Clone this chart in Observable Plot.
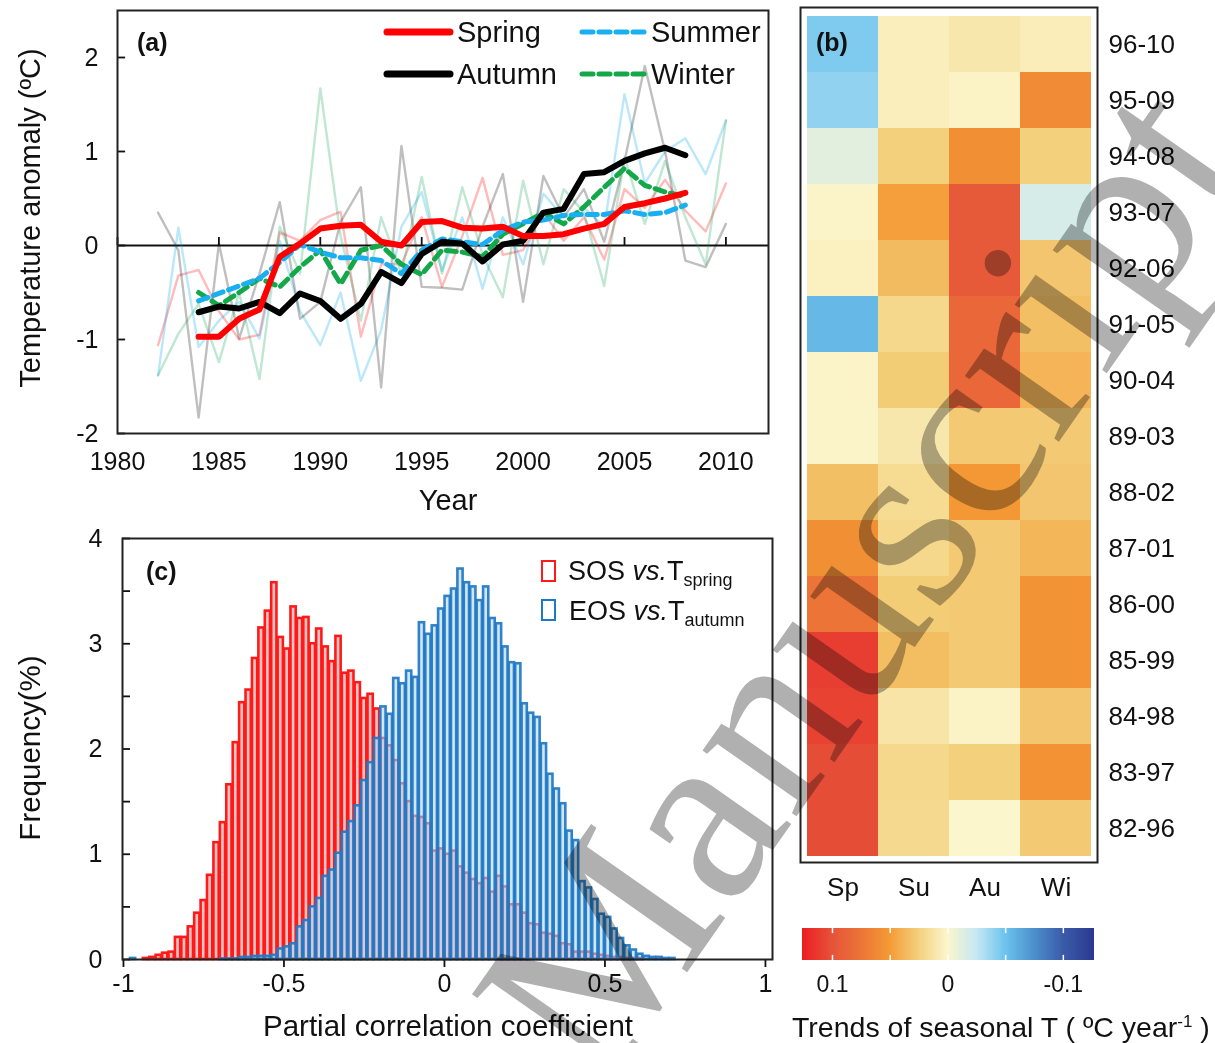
<!DOCTYPE html>
<html><head><meta charset="utf-8">
<script src="https://cdn.jsdelivr.net/npm/d3@7"></script>
<script src="https://cdn.jsdelivr.net/npm/@observablehq/plot@0.6"></script>
<style>
body{margin:0;background:#fff;font-family:"Liberation Sans",Arial,sans-serif;}
#root{position:relative;width:1215px;height:1043px;overflow:hidden;background:#fff}
.abs{position:absolute}
.t{position:absolute;white-space:nowrap;color:#111;line-height:1}
</style></head><body><div id="root"></div>
<script>
// ---------- Panel (a) data ----------
const years = [1982,1983,1984,1985,1986,1987,1988,1989,1990,1991,1992,1993,1994,1995,1996,1997,1998,1999,2000,2001,2002,2003,2004,2005,2006,2007,2008,2009,2010];
const maYears = [1984,1985,1986,1987,1988,1989,1990,1991,1992,1993,1994,1995,1996,1997,1998,1999,2000,2001,2002,2003,2004,2005,2006,2007,2008];
const springAnnual = [-1.06,-0.32,-0.26,-0.7,-1.0,-0.95,0.14,0.05,0.27,0.36,-0.97,-0.2,-0.2,0.3,-0.44,0.1,0.72,-0.1,-0.05,0.35,0.05,0.3,-0.15,0.6,0.4,0.7,0.37,0.15,0.66];
const summerAnnual = [-1.38,0.19,-1.08,-0.8,-0.6,-0.99,0.05,-0.7,-1.06,-0.5,-1.44,-0.9,0.2,0.57,-0.27,0.3,-0.46,0.3,-0.2,0.55,0.3,0.4,0.2,1.61,0.66,1.0,1.14,0.76,1.33];
const autumnAnnual = [0.35,-0.05,-1.83,0.02,-0.99,-0.3,0.46,-0.78,-0.6,0.25,0.62,-1.51,1.06,-0.44,-0.45,-0.47,0.2,0.76,-0.6,0.74,0.3,0.6,0.04,0.9,1.91,1.0,-0.16,-0.23,0.23];
const winterAnnual = [-1.38,-0.94,-0.62,-1.24,-0.5,-1.42,0.2,-0.3,1.67,0.1,-0.8,0.3,-0.3,0.73,-0.3,0.62,-0.1,-0.55,0.69,-0.2,0.6,0.35,-0.43,0.94,0.23,0.9,0.3,-0.2,1.33];
const springMA = [-0.97,-0.97,-0.78,-0.68,-0.12,0.02,0.18,0.21,0.22,0.04,0.0,0.25,0.26,0.19,0.18,0.2,0.1,0.1,0.12,0.18,0.23,0.41,0.45,0.5,0.56];
const summerMA = [-0.59,-0.51,-0.43,-0.35,-0.18,0.01,-0.07,-0.13,-0.13,-0.16,-0.3,-0.05,0.07,0.04,0.01,0.16,0.25,0.27,0.32,0.33,0.33,0.37,0.33,0.35,0.43];
const autumnMA = [-0.71,-0.65,-0.67,-0.6,-0.72,-0.51,-0.59,-0.78,-0.62,-0.28,-0.4,-0.09,0.04,0.02,-0.17,0.01,0.05,0.35,0.39,0.76,0.78,0.9,0.98,1.04,0.96];
const winterMA = [-0.5,-0.64,-0.5,-0.35,-0.44,-0.23,-0.05,-0.41,-0.05,0.0,-0.2,-0.31,-0.05,-0.07,-0.12,0.12,0.23,0.35,0.23,0.41,0.62,0.82,0.64,0.57,0.52];
const yearTicks = [1980,1985,1990,1995,2000,2005,2010];
const anomalyTicks = [-2,-1,0,1,2];

// ---------- Panel (b) data ----------
const periods = ["96-10","95-09","94-08","93-07","92-06","91-05","90-04","89-03","88-02","87-01","86-00","85-99","84-98","83-97","82-96"];
const seasons = ["Sp","Su","Au","Wi"];
const trendSp = [-0.045,-0.04,-0.012,0.001,0.004,-0.055,0.001,0.001,0.033,0.058,0.075,0.11,0.108,0.103,0.103];
const trendSu = [0.005,0.005,0.025,0.048,0.035,0.02,0.027,0.01,0.018,0.02,0.027,0.034,0.012,0.02,0.019];
const trendAu = [0.01,0.002,0.058,0.095,0.095,0.085,0.085,0.028,0.052,0.028,0.028,0.028,0.002,0.025,0.0];
const trendWi = [0.006,0.06,0.025,-0.018,0.03,0.033,0.038,0.028,0.03,0.037,0.055,0.055,0.03,0.056,0.028];
const colorStops = [-0.127,-0.1,-0.075,-0.05,-0.025,0,0.025,0.05,0.075,0.1,0.126];
const colorRamp = ["#2a3990","#3b5ba9","#4d8fcc","#6cc4ee","#c6e8f4","#fcf6cc","#f3d07c","#f49b35","#ec7436","#e5533a","#ee1c24"];
const colorbarTicks = [0.1,0,-0.1];
const colorbarMarks = [0.1,0.05,0,-0.05,-0.1];

// ---------- Panel (c) data (bins of 0.02 from -1 to 1) ----------
const binStart = -1, binWidth = 0.02;
const sosFreq = [0,0,0,0.01,0.02,0.04,0.06,0.07,0.21,0.21,0.31,0.44,0.56,0.8,1.11,1.3,1.66,2.06,2.44,2.56,2.86,3.15,3.31,3.58,3.06,2.95,3.35,3.24,3.25,3.0,3.14,2.97,2.83,3.07,2.72,2.74,2.63,2.48,2.52,2.38,2.1,2.03,1.89,1.67,1.5,1.36,1.35,1.29,1.03,1.05,1.0,1.03,0.88,0.82,0.76,0.72,0.77,0.64,0.79,0.69,0.52,0.52,0.44,0.34,0.33,0.25,0.24,0.22,0.15,0.14,0.07,0.07,0.07,0.05,0.04,0.03,0.02,0.02,0.01,0.01,0.01];
const eosFreq = [0,0.01,0,0,0,0,0,0,0,0,0,0,0,0,0,0.005,0.005,0.005,0.02,0.02,0.03,0.03,0.03,0.04,0.1,0.12,0.15,0.31,0.37,0.5,0.58,0.79,0.85,1.01,1.21,1.31,1.46,1.7,1.87,2.1,2.4,2.33,2.67,2.62,2.74,2.68,3.2,3.09,3.17,3.33,3.45,3.52,3.71,3.58,3.54,3.41,3.54,3.24,3.19,2.97,2.82,2.81,2.43,2.34,2.3,2.05,1.76,1.62,1.48,1.22,1.13,0.74,0.68,0.57,0.43,0.4,0.29,0.2,0.13,0.09,0.05,0.03,0.02,0.02,0.01,0.01];
const corrTicks = [-1,-0.5,0,0.5,1];
const freqTicks = [0,1,2,3,4];
const freqMinor = [0,0.5,1,1.5,2,2.5,3,3.5,4];

// ---------- helpers ----------
const root = document.getElementById("root");
const FONT = "'Liberation Sans', Arial, sans-serif";
function place(node, left, top){ node.classList.add("abs"); node.style.left = left+"px"; node.style.top = top+"px"; root.appendChild(node); }
function text(html, x, y, {size=24, anchor="middle", bold=false, rotate=0, family=FONT}={}){
  const d = document.createElement("div"); d.className="t"; d.innerHTML = html;
  d.style.fontSize = size+"px"; d.style.fontFamily = family; if (bold) d.style.fontWeight = "bold";
  d.style.left = x+"px"; d.style.top = y+"px";
  const tx = anchor==="middle" ? "-50%" : anchor==="end" ? "-100%" : "0";
  d.style.transform = `translate(${tx},-50%)`;
  if (rotate) { d.style.transformOrigin = "0 0"; d.style.transform = `rotate(${rotate}deg) translate(-50%,-50%)`; }
  root.appendChild(d); return d;
}
const series = (ys, vals) => ys.map((y,i)=>({year:y, value:vals[i]}));

// ---------- Panel (a) ----------
const plotA = Plot.plot({
  width: 790, height: 520,
  marginLeft: 117, marginTop: 10, marginRight: 22, marginBottom: 87,
  x: {domain: [1980, 2012.1], label: null},
  y: {domain: [-2, 2.5], label: null},
  style: {fontFamily: FONT, fontSize: "25px", color: "#111", background: "transparent"},
  marks: [
    Plot.ruleY([0], {stroke: "#111", strokeWidth: 1.8}),
    Plot.line(series(years, springAnnual), {x:"year", y:"value", stroke:"rgba(255,0,0,0.27)", strokeWidth: 2.4}),
    Plot.line(series(years, summerAnnual), {x:"year", y:"value", stroke:"rgba(0,170,235,0.27)", strokeWidth: 2.4}),
    Plot.line(series(years, autumnAnnual), {x:"year", y:"value", stroke:"rgba(0,0,0,0.25)", strokeWidth: 2.4}),
    Plot.line(series(years, winterAnnual), {x:"year", y:"value", stroke:"rgba(0,160,80,0.25)", strokeWidth: 2.4}),
    Plot.ruleX(yearTicks, {y1: 0, y2: 0.085, stroke: "#111", strokeWidth: 1.8}),
    Plot.ruleY(anomalyTicks, {x1: 1980, x2: 1980.4, stroke: "#111", strokeWidth: 1.8}),
    Plot.line(series(maYears, winterMA), {x:"year", y:"value", stroke:"#14a84b", strokeWidth: 5, strokeDasharray: "10,6"}),
    Plot.line(series(maYears, summerMA), {x:"year", y:"value", stroke:"#19aff0", strokeWidth: 5, strokeDasharray: "10,6"}),
    Plot.line(series(maYears, autumnMA), {x:"year", y:"value", stroke:"#000", strokeWidth: 6}),
    Plot.line(series(maYears, springMA), {x:"year", y:"value", stroke:"#ff0000", strokeWidth: 6}),
    Plot.axisX({ticks: yearTicks, tickSize: 0, tickPadding: 19, label: null, tickFormat: d => String(d)}),
    Plot.axisY({ticks: anomalyTicks, tickSize: 0, tickPadding: 19, label: null, tickFormat: d => String(d)}),
    Plot.frame({stroke: "#222", strokeWidth: 2})
  ]
});
place(plotA, 0, 0);

// legend (a)
const legA = document.createElementNS("http://www.w3.org/2000/svg","svg");
legA.setAttribute("width", 400); legA.setAttribute("height", 100);
legA.innerHTML = `
 <line x1="7" y1="32" x2="70" y2="32" stroke="#ff0000" stroke-width="7" stroke-linecap="round"/>
 <line x1="7" y1="74" x2="70" y2="74" stroke="#000" stroke-width="7" stroke-linecap="round"/>
 <line x1="202" y1="32" x2="266" y2="32" stroke="#19aff0" stroke-width="5" stroke-dasharray="11,6" stroke-linecap="round"/>
 <line x1="202" y1="74" x2="266" y2="74" stroke="#14a84b" stroke-width="5" stroke-dasharray="11,6" stroke-linecap="round"/>`;
place(legA, 380, 0);
text("Spring", 457, 32, {size: 29, anchor: "start"});
text("Autumn", 457, 74, {size: 29, anchor: "start"});
text("Summer", 651, 32, {size: 29, anchor: "start"});
text("Winter", 651, 74, {size: 29, anchor: "start"});
text("(a)", 137, 42, {size: 25, anchor: "start", bold: true});
text("Year", 448, 500, {size: 29});
text("Temperature anomaly (ºC)", 30, 218, {size: 29, rotate: -90});

// ---------- Panel (b) ----------
const cells = periods.flatMap((p,i)=>[
  {period:p, season:"Sp", value: trendSp[i]},
  {period:p, season:"Su", value: trendSu[i]},
  {period:p, season:"Au", value: trendAu[i]},
  {period:p, season:"Wi", value: trendWi[i]}
]);
const colorScale = {type: "linear", domain: colorStops, range: colorRamp, clamp: true};
const plotB = Plot.plot({
  width: 425, height: 910,
  marginLeft: 15, marginRight: 123, marginTop: 14, marginBottom: 53,
  x: {domain: seasons, padding: 0, label: null},
  y: {domain: periods, padding: 0, label: null},
  color: colorScale,
  style: {fontFamily: FONT, fontSize: "26px", color: "#111", background: "transparent"},
  marks: [
    Plot.cell(cells, {x:"season", y:"period", fill:"value"}),
    Plot.frame({stroke: "#222", strokeWidth: 2, insetLeft: -5, insetRight: -5, insetTop: -7, insetBottom: -5}),
    Plot.axisY({anchor: "right", tickSize: 0, tickPadding: 16, label: null}),
    Plot.axisX({tickSize: 0, tickPadding: 20, label: null})
  ]
});
place(plotB, 790, 0);
text("(b)", 816, 42, {size: 25, anchor: "start", bold: true});

// colorbar
const ramp = d3.range(-0.127, 0.126, 0.001);
const plotBar = Plot.plot({
  width: 425, height: 90,
  marginLeft: 12, marginRight: 121, marginTop: 13, marginBottom: 45,
  x: {domain: [0.126, -0.127], label: null},
  y: {domain: [0, 1], axis: null},
  color: colorScale,
  style: {fontFamily: FONT, fontSize: "23px", color: "#111", background: "transparent"},
  marks: [
    Plot.rect(ramp, {x1: d => d - 0.0004, x2: d => d + 0.0014, y1: 0, y2: 1, fill: d => d, shapeRendering: "crispEdges"}),
    Plot.ruleX(colorbarMarks, {y1: 0, y2: 0.16, stroke: "white", strokeWidth: 1.5}),
    Plot.ruleX(colorbarMarks, {y1: 0.84, y2: 1, stroke: "white", strokeWidth: 1.5}),
    Plot.axisX({ticks: colorbarTicks, tickSize: 0, tickPadding: 15, label: null, tickFormat: d => String(d)})
  ]
});
place(plotBar, 790, 915);
text("Trends of seasonal T ( ºC year<sup style='font-size:17px;vertical-align:10px'>-1</sup> )", 792, 1027, {size: 28.5, anchor: "start"});

// ---------- Panel (c) ----------
const toBins = arr => arr.map((v,k)=>({x1: binStart + k*binWidth, x2: binStart + (k+1)*binWidth, value: v})).filter(d => d.value > 0);
const plotC = Plot.plot({
  width: 790, height: 523,
  marginLeft: 122, marginRight: 18, marginTop: 18, marginBottom: 84,
  x: {domain: [-1.003, 1.022], label: null},
  y: {domain: [0, 4], label: null},
  style: {fontFamily: FONT, fontSize: "25px", color: "#111", background: "transparent"},
  marks: [
    Plot.rectY(toBins(sosFreq), {x1:"x1", x2:"x2", y:"value", fill:"#ffc4c4", stroke:"#ff1a1a", strokeWidth: 2.6, insetLeft: 0.6, insetRight: 0.6}),
    Plot.rectY(toBins(eosFreq), {x1:"x1", x2:"x2", y:"value", fill:"#a9d4f2", fillOpacity: 0.55, stroke:"#1f78c4", strokeOpacity: 0.92, strokeWidth: 2.6, insetLeft: 0.6, insetRight: 0.6}),
    Plot.ruleY(freqMinor, {x1: -1.003, x2: -0.978, stroke: "#111", strokeWidth: 1.8}),
    Plot.axisX({ticks: corrTicks, tickSize: 8, tickPadding: 7, strokeWidth: 1.8, label: null, tickFormat: d => String(d)}),
    Plot.axisY({ticks: freqTicks, tickSize: 0, tickPadding: 20, label: null, tickFormat: d => String(d)}),
    Plot.frame({stroke: "#222", strokeWidth: 2})
  ]
});
place(plotC, 0, 520);

// legend (c)
const legC = document.createElementNS("http://www.w3.org/2000/svg","svg");
legC.setAttribute("width", 30); legC.setAttribute("height", 70);
legC.innerHTML = `<rect x="3" y="3" width="13" height="20" fill="none" stroke="#ff1a1a" stroke-width="2"/>
<rect x="3" y="42" width="13" height="20" fill="none" stroke="#1f78c4" stroke-width="2"/>`;
place(legC, 539, 558);
text("SOS <i>vs.</i>T<sub style='font-size:18px;vertical-align:-6px'>spring</sub>", 568, 573, {size: 27, anchor: "start"});
text("EOS <i>vs.</i>T<sub style='font-size:18px;vertical-align:-6px'>autumn</sub>", 569, 613, {size: 27, anchor: "start"});
text("(c)", 146, 571, {size: 25, anchor: "start", bold: true});
text("Frequency(%)", 30, 748, {size: 29.5, rotate: -90});
text("Partial correlation coefficient", 448, 1026, {size: 29.5});

// watermark
const wm = document.createElementNS("http://www.w3.org/2000/svg","svg");
wm.setAttribute("width", 1215); wm.setAttribute("height", 1043);
wm.style.mixBlendMode = "multiply"; wm.style.pointerEvents = "none";
wm.innerHTML = `<text x="602" y="1094" transform="rotate(-55 602 1094)" font-family="Liberation Serif, serif" font-size="250" fill="#b0b0b0">Manuscript</text>`;
place(wm, 0, 0);
</script></body></html>
